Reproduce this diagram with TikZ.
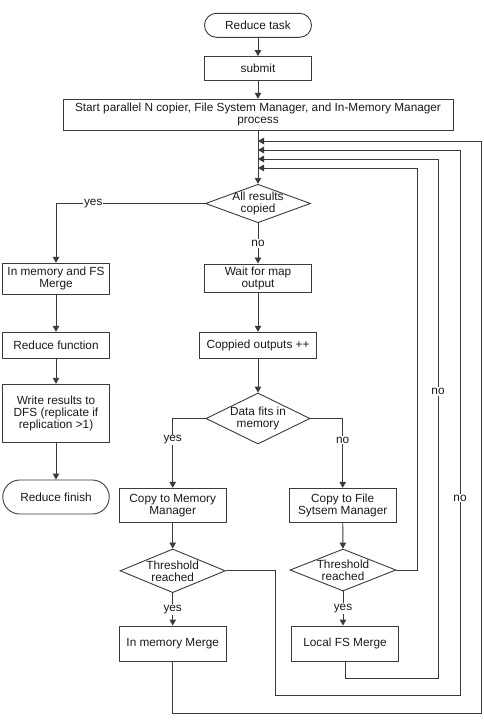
\documentclass[tikz,border=0pt]{standalone}
\usepackage{fontspec}
\setmainfont{Liberation Sans}
\usepackage{xcolor}
\usetikzlibrary{arrows.meta,shapes.geometric}
\definecolor{lineg}{HTML}{3A3A3A}
\definecolor{textg}{HTML}{1A1A1A}

\begin{document}
\begin{tikzpicture}[x=1pt,y=-1pt,font=\fontsize{11.8}{12}\selectfont,text=textg,
  box/.style={draw=lineg,line width=0.9pt,rectangle,align=center,inner sep=1pt},
  term/.style={box,rounded corners=#1},
  decision/.style={draw=lineg,line width=0.9pt,diamond,aspect=2,align=center,inner xsep=-22pt,inner ysep=-9pt},
  lbl/.style={fill=white,inner sep=1pt},
  arr/.style={draw=lineg,line width=0.9pt,-{Triangle[width=6.5pt,length=6pt]}}]
  \useasboundingbox (0,0) rectangle (484,723);
  % top of the flow
  \node[term=12pt,minimum width=107pt,minimum height=24pt] (task) at (258,25.3) {Reduce task};
  \node[box,minimum width=107pt,minimum height=23.5pt] (submit) at (258,68.3) {submit};
  \node[box,minimum width=390pt,minimum height=31pt] (start) at (258,114.7) {Start parallel N copier, File System Manager, and In-Memory Manager\\process};
  \node[decision,minimum width=105pt,minimum height=38.5pt] (allcopied) at (258,203.5) {All results\\copied};
  % left column
  \node[box,minimum width=106.5pt,minimum height=31pt] (memfs) at (56,278.8) {In memory and FS\\Merge};
  \node[box,minimum width=106.5pt,minimum height=26pt] (redfn) at (56,345.3) {Reduce function};
  \node[box,minimum width=106.5pt,minimum height=58.5pt] (write) at (56,413.5) {Write results to\\DFS (replicate if\\replication >1)};
  \node[term=17pt,minimum width=106.5pt,minimum height=34pt] (finish) at (56,497) {Reduce finish};
  % middle column
  \node[box,minimum width=106.7pt,minimum height=28.7pt] (wait) at (258,278.3) {Wait for map\\output};
  \node[box,minimum width=116.7pt,minimum height=26pt] (copied) at (258,345.3) {Coppied outputs ++};
  \node[decision,minimum width=104pt,minimum height=51pt] (fits) at (258,418.5) {Data fits in\\memory};
  \node[box,minimum width=106.7pt,minimum height=34.4pt] (copymem) at (172.7,505.5) {Copy to Memory\\Manager};
  \node[box,minimum width=106.7pt,minimum height=34.4pt] (copyfs) at (342.7,505.5) {Copy to File\\Sytsem Manager};
  \node[decision,minimum width=105.3pt,minimum height=43.7pt] (thmem) at (172.7,570.8) {Threshold\\reached};
  \node[decision,minimum width=106pt,minimum height=42pt] (thfs) at (343,570) {Threshold\\reached};
  \node[box,minimum width=106.7pt,minimum height=35pt] (memmerge) at (172.7,643.5) {In memory Merge};
  \node[box,minimum width=106.6pt,minimum height=35pt] (fsmerge) at (345,643.5) {Local FS Merge};
  % merge points on the main line
  \foreach \i/\y in {1/141,2/150,3/159,4/168}{\coordinate (m\i) at (258,\y);}
  % arrows
  \draw[arr] (task) -- (submit);
  \draw[arr] (submit) -- (start);
  \draw[arr] (start) -- (allcopied);
  \draw[arr] (allcopied.west) -| node[lbl,pos=0.375]{yes} (memfs);
  \draw[arr] (allcopied) -- node[lbl]{no} (wait);
  \draw[arr] (memfs) -- (redfn);
  \draw[arr] (redfn) -- (write);
  \draw[arr] (write) -- (finish);
  \draw[arr] (wait) -- (copied);
  \draw[arr] (copied) -- (fits);
  \draw[arr] (fits.west) -| node[lbl,pos=0.655]{yes} (copymem);
  \draw[arr] (fits.east) -| node[lbl,pos=0.655]{no} (copyfs);
  \draw[arr] (copymem) -- (thmem);
  \draw[arr] (copyfs) -- (thfs);
  \draw[arr] (thmem) -- node[lbl]{yes} (memmerge);
  \draw[arr] (thfs.south) -- node[lbl]{yes} (thfs.south |- fsmerge.north);
  % return paths
  \draw[arr] (thfs.east) -| (417,168) -- (m4);
  \draw[arr] (fsmerge.south) -- ++(0,17) -| node[lbl,pos=0.776]{no} (438,159) -- (m3);
  \draw[arr] (thmem.east) -| (275,695) -- (460,695) -- node[lbl,pos=0.361]{no} (460,150) -- (m2);
  \draw[arr] (memmerge.south) |- (481,713) -- (481,141) -- (m1);
\end{tikzpicture}
\end{document}
